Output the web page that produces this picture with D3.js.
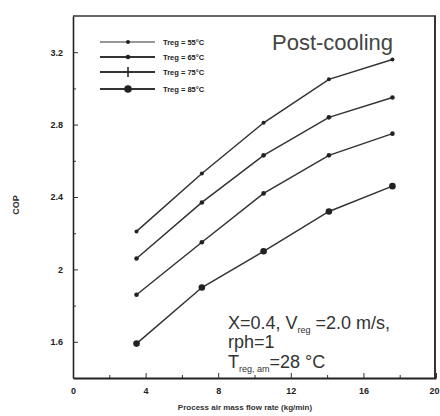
<!DOCTYPE html>
<html>
<head>
<meta charset="utf-8">
<script src="https://cdn.jsdelivr.net/npm/d3@7"></script>
<style>
  body { margin: 0; background: #fff; }
  svg { font-family: "Liberation Sans", Arial, sans-serif; }
</style>
</head>
<body>
<div id="chart"></div>
<script>
// flow rate (kg/min)
var flowRate = [3.5, 7.1, 10.5, 14.1, 17.6];
var seriesNames = ["Treg = 55°C", "Treg = 65°C", "Treg = 75°C", "Treg = 85°C"];
var cop55 = [2.21, 2.53, 2.81, 3.05, 3.16];
var cop65 = [2.06, 2.37, 2.63, 2.84, 2.95];
var cop75 = [1.86, 2.15, 2.42, 2.63, 2.75];
var cop85 = [1.59, 1.90, 2.10, 2.32, 2.46];
var xTicks = [0, 4, 8, 12, 16, 20];
var yTicks = [1.6, 2, 2.4, 2.8, 3.2];

var svgWidth = 440, svgHeight = 416;
var margin = { top: 16, right: 4, bottom: 38, left: 73 };
var width = svgWidth - margin.left - margin.right;
var height = svgHeight - margin.top - margin.bottom;

var svg = d3.select("#chart").append("svg")
  .attr("width", svgWidth)
  .attr("height", svgHeight);

var chartGroup = svg.append("g")
  .attr("transform", `translate(${margin.left}, ${margin.top})`);

var xScale = d3.scaleLinear().domain([0, 20]).range([0, width]);
var yScale = d3.scaleLinear().domain([1.4, 3.4]).range([height, 0]);

// frame
chartGroup.append("line").attr("x1", 0).attr("x2", width).attr("y1", 0).attr("y2", 0)
  .attr("stroke", "#333").attr("stroke-width", 1.5);
chartGroup.append("line").attr("x1", width - 1).attr("x2", width - 1).attr("y1", 0).attr("y2", height)
  .attr("stroke", "#333").attr("stroke-width", 2);

// minor ticks
var xMinor = chartGroup.append("g").attr("transform", `translate(0, ${height})`)
  .call(d3.axisTop(xScale).tickValues([2, 6, 10, 14, 18]).tickSize(3).tickFormat(""));
var yMinor = chartGroup.append("g")
  .call(d3.axisRight(yScale).tickValues([1.8, 2.2, 2.6, 3.0]).tickSize(3).tickFormat(""));

var bottomAxis = d3.axisBottom(xScale).tickValues(xTicks).tickSizeInner(-5).tickSizeOuter(0).tickPadding(10);
var leftAxis = d3.axisLeft(yScale).tickValues(yTicks).tickSizeInner(-5).tickSizeOuter(0).tickPadding(10)
  .tickFormat(d => d === 2 ? "2" : d3.format(".1f")(d));

var xAxis = chartGroup.append("g")
  .attr("transform", `translate(0, ${height})`)
  .call(bottomAxis);
var yAxis = chartGroup.append("g").call(leftAxis);

[xAxis, yAxis, xMinor, yMinor].forEach(function(a) {
  a.select(".domain").attr("stroke", "#222").attr("stroke-width", 1.6);
  a.selectAll(".tick line").attr("stroke", "#333");
  a.selectAll("text").attr("font-size", 9).attr("font-weight", "bold").attr("fill", "#222");
});
xMinor.select(".domain").remove();
yMinor.select(".domain").remove();
xAxis.select(".domain").attr("stroke-width", 2.2);
// last x label sits at the right edge
xAxis.selectAll(".tick text").filter(d => d === 20).attr("text-anchor", "end").attr("dx", 3);

// axis titles
svg.append("text")
  .attr("transform", "rotate(-90)")
  .attr("x", -205).attr("y", 19)
  .attr("text-anchor", "middle")
  .attr("font-size", 9).attr("font-weight", "bold").attr("fill", "#333")
  .text("COP");

svg.append("text")
  .attr("x", 245).attr("y", 410)
  .attr("text-anchor", "middle")
  .attr("font-size", 8).attr("font-weight", "bold").attr("fill", "#333")
  .text("Process air mass flow rate (kg/min)");

// series
var allSeries = [cop55, cop65, cop75, cop85];
var markerR = [2, 2.3, 2.3, 3.3];

var line = d3.line()
  .x((d, i) => xScale(flowRate[i]))
  .y(d => yScale(d));

allSeries.forEach(function(values, s) {
  chartGroup.append("path")
    .datum(values)
    .attr("fill", "none")
    .attr("stroke", "#333")
    .attr("stroke-width", 1.5)
    .attr("d", line);

  chartGroup.selectAll(".pt" + s)
    .data(values)
    .enter()
    .append("circle")
    .attr("class", "pt" + s)
    .attr("cx", (d, i) => xScale(flowRate[i]))
    .attr("cy", d => yScale(d))
    .attr("r", markerR[s])
    .attr("fill", "#222");
});

// legend
var legend = svg.append("g");
var legendY = [42, 57, 72, 89];
seriesNames.forEach(function(name, s) {
  var g = legend.append("g").attr("transform", `translate(0, ${legendY[s]})`);
  g.append("line").attr("x1", 100).attr("x2", 155).attr("y1", 0).attr("y2", 0)
    .attr("stroke", "#333").attr("stroke-width", s === 0 ? 1.2 : 2);
  if (s === 2) {
    g.append("line").attr("x1", 128).attr("x2", 128).attr("y1", -5).attr("y2", 5)
      .attr("stroke", "#222").attr("stroke-width", 1.5);
  } else {
    g.append("circle").attr("cx", 128).attr("cy", 0).attr("r", markerR[s] + (s === 3 ? 0.5 : 0))
      .attr("fill", "#222");
  }
  g.append("text").attr("x", 163).attr("y", 3)
    .attr("font-size", 7.5).attr("font-weight", "bold").attr("fill", "#222")
    .text(name);
});

svg.append("text")
  .attr("x", 272).attr("y", 50)
  .attr("font-size", 22).attr("fill", "#444")
  .text("Post-cooling");

// condition note
var note = svg.append("g").attr("font-size", 18).attr("fill", "#333");
var t1 = note.append("text").attr("x", 228).attr("y", 329);
t1.append("tspan").text("X=0.4, V");
t1.append("tspan").attr("font-size", 9).attr("dy", 4).text("reg");
t1.append("tspan").attr("dy", -4).text(" =2.0 m/s,");
note.append("text").attr("x", 228).attr("y", 348).text("rph=1");
var t3 = note.append("text").attr("x", 228).attr("y", 368);
t3.append("tspan").text("T");
t3.append("tspan").attr("font-size", 9).attr("dy", 4).text("reg, am");
t3.append("tspan").attr("dy", -4).text("=28 °C");
</script>
</body>
</html>
